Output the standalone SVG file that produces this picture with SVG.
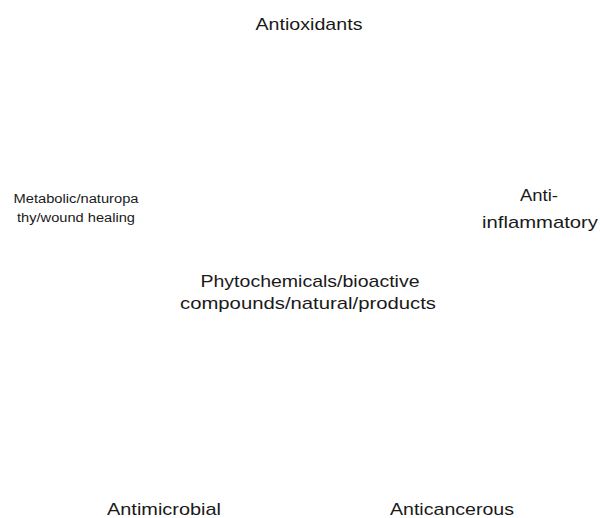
<svg xmlns="http://www.w3.org/2000/svg" width="600" height="518" viewBox="0 0 600 518">
<style>
text{font-family:"Liberation Sans","DejaVu Sans",sans-serif;fill:#1a1a1a;text-anchor:middle}
.l{font-size:17px}
.s{font-size:12px}
</style>
<rect width="600" height="518" fill="#fff"/>
<g id="antioxidants"><text class="l" x="309" y="30" textLength="107" lengthAdjust="spacingAndGlyphs">Antioxidants</text></g>
<g id="anti-inflammatory">
<text class="l" x="539" y="201" textLength="38" lengthAdjust="spacingAndGlyphs">Anti-</text>
<text class="l" x="540" y="228" textLength="116" lengthAdjust="spacingAndGlyphs">inflammatory</text>
</g>
<g id="metabolic">
<text class="s" x="76" y="203" textLength="125" lengthAdjust="spacingAndGlyphs">Metabolic/naturopa</text>
<text class="s" x="76" y="222" textLength="118" lengthAdjust="spacingAndGlyphs">thy/wound healing</text>
</g>
<g id="phytochemicals">
<text class="l" x="310" y="287" textLength="219" lengthAdjust="spacingAndGlyphs">Phytochemicals/bioactive</text>
<text class="l" x="308" y="309" textLength="256" lengthAdjust="spacingAndGlyphs">compounds/natural/products</text>
</g>
<g id="antimicrobial"><text class="l" x="164" y="515" textLength="114" lengthAdjust="spacingAndGlyphs">Antimicrobial</text></g>
<g id="anticancerous"><text class="l" x="452" y="515" textLength="124" lengthAdjust="spacingAndGlyphs">Anticancerous</text></g>
</svg>
